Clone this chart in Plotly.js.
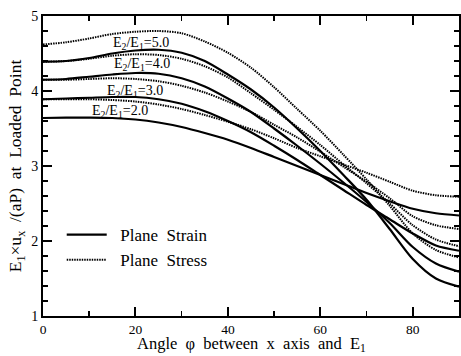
<!DOCTYPE html>
<html>
<head>
<meta charset="utf-8">
<script src="https://cdn.plot.ly/plotly-3.0.1.min.js"></script>
<style>html,body{margin:0;padding:0;background:#fff;}#chart{width:461px;height:356px;}</style>
</head>
<body>
<div id="chart"></div>
<script>
// Angle phi (degrees)
const phi = [0,5,10,15,20,25,30,35,40,45,50,55,60,65,70,75,80,85,90];

// Plane strain (solid)
const strain2 = [3.64,3.645,3.645,3.64,3.62,3.58,3.52,3.44,3.35,3.24,3.12,3.00,2.88,2.76,2.64,2.53,2.43,2.37,2.34];
const strain3 = [3.89,3.90,3.91,3.92,3.92,3.89,3.83,3.73,3.60,3.45,3.27,3.08,2.88,2.68,2.48,2.29,2.10,1.94,1.87];
const strain4 = [4.15,4.16,4.19,4.22,4.24,4.23,4.17,4.06,3.90,3.72,3.50,3.27,3.03,2.78,2.52,2.24,1.92,1.70,1.59];
const strain5 = [4.39,4.40,4.44,4.50,4.54,4.55,4.51,4.40,4.22,4.02,3.78,3.50,3.20,2.88,2.55,2.16,1.76,1.50,1.39];

// Plane stress (dotted)
const stress2 = [3.89,3.89,3.89,3.88,3.86,3.82,3.76,3.68,3.59,3.49,3.37,3.24,3.13,3.02,2.91,2.79,2.67,2.61,2.59];
const stress3 = [4.15,4.15,4.16,4.17,4.16,4.13,4.07,3.98,3.86,3.72,3.55,3.38,3.19,2.99,2.79,2.57,2.33,2.21,2.16];
const stress4 = [4.39,4.40,4.43,4.47,4.49,4.48,4.43,4.33,4.18,3.97,3.75,3.52,3.28,3.02,2.77,2.50,2.21,2.02,1.93];
const stress5 = [4.62,4.65,4.70,4.76,4.79,4.80,4.77,4.66,4.51,4.31,4.05,3.76,3.47,3.15,2.82,2.47,2.10,1.88,1.78];

const ratioLabels = ["E<sub>2</sub>/E<sub>1</sub>=2.0","E<sub>2</sub>/E<sub>1</sub>=3.0","E<sub>2</sub>/E<sub>1</sub>=4.0","E<sub>2</sub>/E<sub>1</sub>=5.0"];
const labelX = [16.7, 19.8, 21.4, 21.1];
const labelY = [3.73, 4.00, 4.35, 4.64];

const legendNames = ["\u00A0\u00A0Plane\u00A0 Strain", "\u00A0\u00A0Plane\u00A0 Stress"];
const xTitle = "Angle\u00A0 \u03c6\u00A0 between\u00A0 x\u00A0 axis\u00A0 and\u00A0 E<sub>1</sub>";
const yTitle = "E<sub>1</sub>\u00D7u<sub>x</sub>\u00A0 /(aP)\u00A0 at\u00A0 Loaded\u00A0 Point";

const FONT = "'Liberation Serif', 'Times New Roman', Times, 'DejaVu Serif', serif";
const solidLine = {color:"#000", width:2.2, shape:"spline", smoothing:0.8};
const dotLine = {color:"#000", width:2, dash:"1.5px,1px", shape:"spline", smoothing:0.8};

const strainSets = [strain2, strain3, strain4, strain5];
const stressSets = [stress2, stress3, stress4, stress5];
const traces = [];
strainSets.forEach((ys,i)=>traces.push({x:phi, y:ys, type:"scatter", mode:"lines", line:solidLine,
  name:legendNames[0], legendgroup:"strain", showlegend:i===0, hoverinfo:"skip"}));
stressSets.forEach((ys,i)=>traces.push({x:phi, y:ys, type:"scatter", mode:"lines", line:dotLine,
  name:legendNames[1], legendgroup:"stress", showlegend:i===0, hoverinfo:"skip"}));

const annotations = ratioLabels.map((t,i)=>({x:labelX[i], y:labelY[i], xref:"x", yref:"y", text:t,
  showarrow:false, font:{family:FONT, size:14, color:"#000"}, xanchor:"center", yanchor:"middle"}));
annotations.push({x:0.5, y:-0.093, xref:"paper", yref:"paper", text:xTitle, showarrow:false,
  xanchor:"center", yanchor:"middle", font:{family:FONT, size:16.5, color:"#000"}});

const axisCommon = {showline:true, linewidth:2, linecolor:"#000", mirror:"allticks", ticks:"inside",
  ticklen:9, tickwidth:2, tickcolor:"#000", showgrid:false, zeroline:false,
  tickfont:{family:FONT, size:14, color:"#000"}};

const layout = {
  width:461, height:356,
  margin:{l:43, r:2, t:16, b:40},
  paper_bgcolor:"#fff", plot_bgcolor:"#fff",
  font:{family:FONT, color:"#000"},
  showlegend:true,
  legend:{x:0.045, y:0.33, xanchor:"left", yanchor:"top", bgcolor:"rgba(0,0,0,0)",
    font:{family:FONT, size:17, color:"#000"}, tracegroupgap:0, itemwidth:40},
  xaxis:Object.assign({}, axisCommon, {range:[0,90], tick0:0, dtick:20,
    tickfont:{family:FONT, size:13.5, color:"#000"},
    minor:{dtick:10, ticks:"inside", ticklen:5, tickwidth:1.5, tickcolor:"#000", showgrid:false}}),
  yaxis:Object.assign({}, axisCommon, {range:[1,5], tick0:1, dtick:1,
    minor:{dtick:0.2, ticks:"inside", ticklen:5, tickwidth:1.5, tickcolor:"#000", showgrid:false},
    title:{text:yTitle, font:{family:FONT, size:17.5, color:"#000"}, standoff:5}}),
  annotations:annotations
};

Plotly.newPlot("chart", traces, layout, {staticPlot:true, displayModeBar:false});
</script>
</body>
</html>
